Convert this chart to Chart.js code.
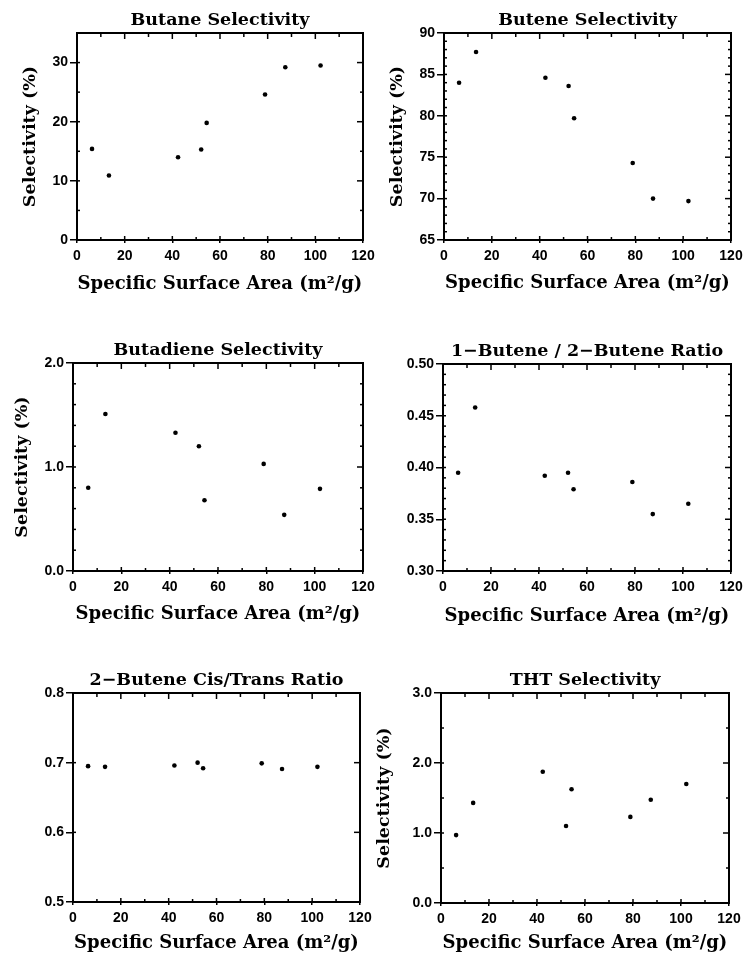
<!DOCTYPE html>
<html><head><meta charset="utf-8">
<script src="https://cdn.jsdelivr.net/npm/chart.js@4.4.1/dist/chart.umd.min.js"></script>
<style>
html,body{margin:0;padding:0;background:#fff;width:745px;height:957px;overflow:hidden}
canvas{position:absolute}
</style></head><body>
<canvas id="c1" width="386" height="310" style="left:0px;top:0px"></canvas>
<canvas id="c2" width="373" height="310" style="left:372px;top:0px"></canvas>
<canvas id="c3" width="386" height="320" style="left:0px;top:310px"></canvas>
<canvas id="c4" width="373" height="320" style="left:372px;top:310px"></canvas>
<canvas id="c5" width="386" height="327" style="left:0px;top:630px"></canvas>
<canvas id="c6" width="373" height="327" style="left:372px;top:630px"></canvas>
<script>
// ---- data ----
const surfaceArea = [6.3, 13.4, 42.4, 52.1, 54.4, 78.9, 87.4, 102.2];
const butaneSel = [15.4, 10.9, 14.0, 15.3, 19.8, 24.6, 29.2, 29.5];
const buteneSel = [84.0, 87.7, 84.6, 83.6, 79.7, 74.3, 70.0, 69.7];
const butadieneSel = [0.80, 1.51, 1.33, 1.20, 0.68, 1.03, 0.54, 0.79];
const butene12Ratio = [0.395, 0.458, 0.392, 0.395, 0.379, 0.386, 0.355, 0.365];
const cisTransRatio = [0.695, 0.694, 0.696, 0.700, 0.692, 0.699, 0.691, 0.694];
const thtSel = [0.97, 1.43, 1.875, 1.10, 1.625, 1.23, 1.475, 1.70];

const xTicks = [0, 20, 40, 60, 80, 100, 120];
const butaneTicks = [0, 10, 20, 30];
const buteneTicks = [65, 70, 75, 80, 85, 90];
const butadieneTicks = [0, 1, 2];
const ratioTicks = [0.30, 0.35, 0.40, 0.45, 0.50];
const cisTransTicks = [0.5, 0.6, 0.7, 0.8];
const thtTicks = [0, 1, 2, 3];

const titles = ['Butane Selectivity', 'Butene Selectivity', 'Butadiene Selectivity',
  '1\u2212Butene / 2\u2212Butene Ratio', '2\u2212Butene Cis/Trans Ratio', 'THT Selectivity'];
const xTitle = 'Specific Surface Area (m\u00B2/g)';
const yTitle = 'Selectivity (%)';

// ---- layout / style ----
const SERIF = '"DejaVu Serif", serif';
const SANS = '"Liberation Sans", Arial, sans-serif';
const TITLE_SIZE = 17.5, XTITLE_SIZE = 18, YTITLE_SIZE = 17.5, TICK_SIZE = 14;
const panels = [
  {id:'c1', title:titles[0], values:butaneSel, yMin:0, yMax:35, yTicks:butaneTicks, yMinor:5, dec:0, yT:yTitle, box:{L:77,R:363,T:33,B:240}, yTitleX:30, xTitleDy:44},
  {id:'c2', title:titles[1], values:buteneSel, yMin:65, yMax:90, yTicks:buteneTicks, yMinor:1, dec:0, yT:yTitle, box:{L:72,R:359,T:33,B:240}, yTitleX:25, xTitleDy:43},
  {id:'c3', title:titles[2], values:butadieneSel, yMin:0, yMax:2, yTicks:butadieneTicks, yMinor:0.2, dec:1, yT:yTitle, box:{L:73,R:363,T:53,B:261}, yTitleX:22, xTitleDy:43},
  {id:'c4', title:titles[3], values:butene12Ratio, yMin:0.30, yMax:0.50, yTicks:ratioTicks, yMinor:0.01, dec:2, yT:'', box:{L:71,R:359,T:54,B:261}, yTitleX:20, xTitleDy:45},
  {id:'c5', title:titles[4], values:cisTransRatio, yMin:0.5, yMax:0.8, yTicks:cisTransTicks, yMinor:0, dec:1, yT:'', box:{L:73,R:360,T:63,B:272}, yTitleX:20, xTitleDy:41},
  {id:'c6', title:titles[5], values:thtSel, yMin:0, yMax:3, yTicks:thtTicks, yMinor:0.5, dec:1, yT:yTitle, box:{L:69,R:357,T:63,B:273}, yTitleX:12, xTitleDy:40}
];

const frameTicks = {
  id: 'frameTicks',
  afterDraw(chart, args, opts) {
    const {ctx, chartArea: a} = chart;
    const xs = chart.scales.x, ys = chart.scales.y;
    ctx.save();
    ctx.strokeStyle = '#000';
    ctx.lineWidth = 2;
    ctx.strokeRect(a.left, a.top, a.right - a.left, a.bottom - a.top);
    ctx.lineWidth = 1.5;
    const line = (x1, y1, x2, y2) => { ctx.beginPath(); ctx.moveTo(x1, y1); ctx.lineTo(x2, y2); ctx.stroke(); };
    const isMajor = (v, list) => list.some(t => Math.abs(t - v) < 1e-9);
    xs.ticks.forEach(t => {
      const x = xs.getPixelForValue(t.value);
      line(x, a.bottom, x, a.bottom - 4);
      line(x, a.top, x, a.top + 6);
    });
    const xMaj = xs.ticks.map(t => t.value);
    for (let v = xs.min; v <= xs.max + 1e-9; v += opts.xMinor) {
      if (isMajor(v, xMaj)) continue;
      const x = xs.getPixelForValue(v);
      line(x, a.bottom, x, a.bottom - 3);
      line(x, a.top, x, a.top + 4);
    }
    ys.ticks.forEach(t => {
      const y = ys.getPixelForValue(t.value);
      line(a.left, y, a.left + 3, y);
      line(a.right, y, a.right - 6, y);
    });
    if (opts.yMinor > 0) {
      const yMaj = ys.ticks.map(t => t.value);
      const n = Math.round((ys.max - ys.min) / opts.yMinor);
      for (let i = 0; i <= n; i++) {
        const v = ys.min + i * opts.yMinor;
        if (isMajor(+v.toFixed(6), yMaj)) continue;
        const y = ys.getPixelForValue(v);
        line(a.left, y, a.left + 3, y);
        line(a.right, y, a.right - 3, y);
      }
    }
    ctx.restore();
  }
};

panels.forEach(p => {
  const cv = document.getElementById(p.id);
  const cw = cv.width, ch = cv.height, b = p.box;
  const lhT = TITLE_SIZE * 1.2, lhX = XTITLE_SIZE * 1.2, lhY = YTITLE_SIZE * 1.2;
  new Chart(cv, {
    type: 'scatter',
    data: { datasets: [{
      data: surfaceArea.map((x, i) => ({x: x, y: p.values[i]})),
      pointRadius: 2.3, pointHoverRadius: 2.3,
      backgroundColor: '#000', borderWidth: 0
    }]},
    options: {
      responsive: false, animation: false, devicePixelRatio: 1,
      layout: { padding: { left: 0, top: 0, right: cw - b.R, bottom: 0 } },
      plugins: {
        legend: { display: false },
        tooltip: { enabled: false },
        title: {
          display: true, text: p.title, fullSize: false, color: '#000',
          font: { family: SERIF, size: TITLE_SIZE, weight: 'bold', lineHeight: 1.2 },
          padding: { top: b.T - 13 - lhT / 2, bottom: 13 - lhT / 2 }
        },
        frameTicks: { xMinor: 10, yMinor: p.yMinor }
      },
      scales: {
        x: {
          type: 'linear', position: 'bottom', min: 0, max: 120,
          afterBuildTicks: s => { s.ticks = xTicks.map(v => ({value: v})); },
          afterFit: s => { s.height = ch - b.B; s.paddingLeft = 0; s.paddingRight = 0; },
          grid: { display: true, drawOnChartArea: false, drawTicks: true, tickLength: 3, color: '#000', lineWidth: 1.5 },
          border: { display: false },
          ticks: { color: '#000', padding: 5, maxRotation: 0, font: { family: SANS, size: TICK_SIZE, weight: 'bold' },
                   callback: v => String(v) },
          title: { display: true, text: xTitle, color: '#000',
                   font: { family: SERIF, size: XTITLE_SIZE, weight: 'bold', lineHeight: 1.2 },
                   padding: { top: 0, bottom: ch - b.B - p.xTitleDy - lhX / 2 } }
        },
        y: {
          type: 'linear', position: 'left', min: p.yMin, max: p.yMax,
          afterBuildTicks: s => { s.ticks = p.yTicks.map(v => ({value: v})); },
          afterFit: s => { s.width = b.L; s.paddingTop = 0; s.paddingBottom = 0; },
          grid: { display: true, drawOnChartArea: false, drawTicks: true, tickLength: 7, color: '#000', lineWidth: 1.5 },
          border: { display: false },
          ticks: { color: '#000', padding: 2, font: { family: SANS, size: TICK_SIZE, weight: 'bold' },
                   callback: v => Number(v).toFixed(p.dec) },
          title: { display: p.yT !== '', text: p.yT, color: '#000',
                   font: { family: SERIF, size: YTITLE_SIZE, weight: 'bold', lineHeight: 1.2 },
                   padding: { top: p.yTitleX - lhY / 2, bottom: 0 } }
        }
      }
    },
    plugins: [frameTicks]
  });
});
</script>
</body></html>
